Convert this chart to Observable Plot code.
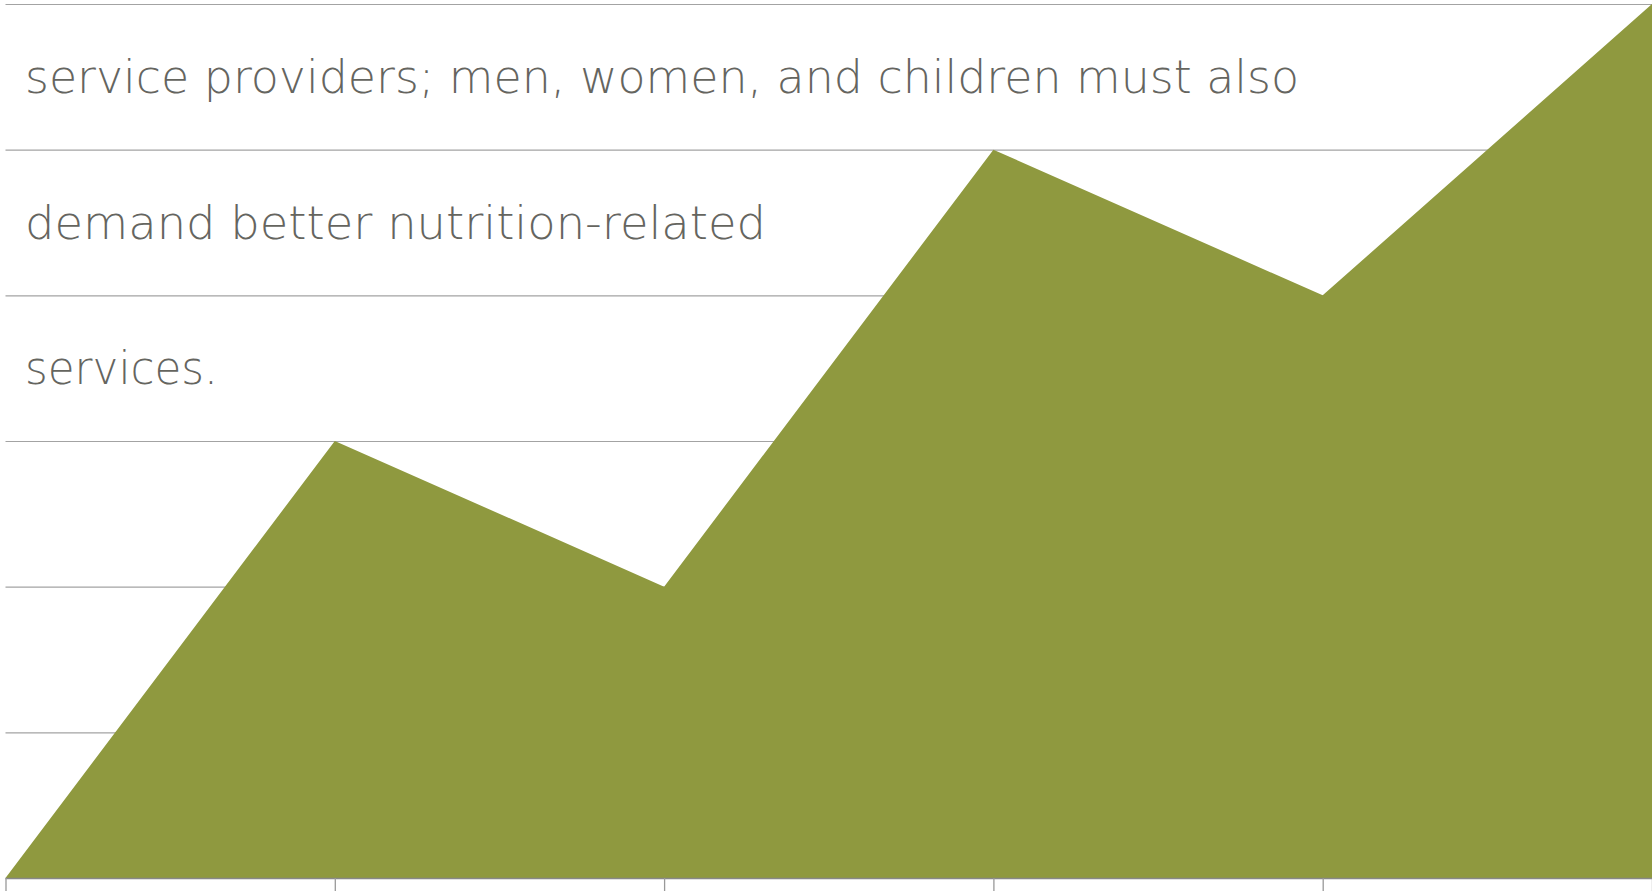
<!DOCTYPE html>
<html><head><meta charset="utf-8">
<script src="https://cdn.jsdelivr.net/npm/d3@7"></script>
<script src="https://cdn.jsdelivr.net/npm/@observablehq/plot@0.6"></script>
<style>body{margin:0;background:#fff;overflow:hidden}</style>
</head><body><div id="chart"></div>
<script>
// Data
const categories = [0, 1, 2, 3, 4, 5];
const values = [0, 3, 2, 5, 4, 6];
const gridValues = [1, 2, 3, 4, 5, 6];
const textLines = [
  "service providers; men, women, and children must also",
  "demand better nutrition-related",
  "services."
];
const textRows = [5.5, 4.5, 3.5];

const data = categories.map((c, i) => ({x: c, y: values[i]}));
const lines = textLines.map((t, i) => ({text: t, y: textRows[i]}));
const targetLengths = [1274, 741, 193];

const chart = Plot.plot({
  width: 1652,
  height: 891,
  marginLeft: 5.5,
  marginRight: 0,
  marginTop: 4,
  marginBottom: 13,
  style: {background: "#fff", overflow: "visible"},
  x: {domain: [0, 5], label: null},
  y: {domain: [0, 6], axis: null},
  marks: [
    Plot.ruleY(gridValues, {stroke: "#a3a3a3", strokeWidth: 1.2}),
    Plot.areaY(data, {x: "x", y: "y", fill: "#8f993f", curve: "linear"}),
    Plot.ruleY([0], {stroke: "#888888", strokeWidth: 1.6}),
    Plot.axisX({ticks: categories, tickSize: 13, tickFormat: () => "", label: null, stroke: "#999999", strokeWidth: 1.3}),
    Plot.text(lines, {
      x: () => 0, y: "y", text: "text", textAnchor: "start", dx: 19, dy: 1,
      fontSize: 46, fill: "#65655f", fontFamily: "DejaVu Sans", fontWeight: 300
    })
  ]
});
document.getElementById("chart").appendChild(chart);
d3.select(chart).selectAll("text").each(function() {
  const i = textLines.indexOf(this.textContent);
  if (i >= 0) {
    this.setAttribute("textLength", targetLengths[i]);
    this.setAttribute("lengthAdjust", "spacingAndGlyphs");
  }
});
</script>
</body></html>
